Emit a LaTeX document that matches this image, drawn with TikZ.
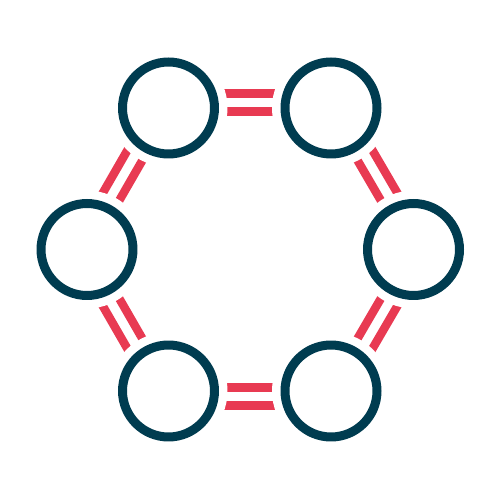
\documentclass[tikz,border=0pt]{standalone}
\usepackage{tikz}
\usetikzlibrary{calc,backgrounds}
\definecolor{ringblue}{HTML}{003C50}
\definecolor{bondred}{HTML}{E83A52}

\begin{document}
\begin{tikzpicture}[
    x=0.02cm, y=0.02cm,
    % Rings (atoms)
    ring/.style  = {circle, draw=ringblue, line width=0.18cm, minimum size=1.84cm, inner sep=0pt},
    % Bars of a double bond
    bond/.style  = {draw=bondred, line width=0.17cm},
    % White gap round each ring
    halo/.style  = {fill=white}
  ]
  \useasboundingbox (0,0) rectangle (500,500);

  % ===== Rings on a hexagon =====
  \foreach \n/\x/\y in {tl/168.5/392, tr/331/392, r/413.5/250.5, br/331/109, bl/168.5/109, l/87/250.5}{
    \node[ring] (\n) at (\x,\y) {};
  }

  % ===== Double bonds (behind the rings) =====
  \begin{scope}[on background layer]
    \foreach \a/\b in {tl/tr, tr/r, r/br, br/bl, bl/l, l/tl}{
      \draw[bond] ($(\a)!0.29cm!90:(\b)$) -- ($(\b)!0.29cm!-90:(\a)$);
      \draw[bond] ($(\a)!0.07cm!-90:(\b)$) -- ($(\b)!0.07cm!90:(\a)$);
    }
    \foreach \n in {tl, tr, r, br, bl, l}{
      \fill[halo] (\n.center) circle [radius=1.18cm];
    }
  \end{scope}

\end{tikzpicture}
\end{document}
